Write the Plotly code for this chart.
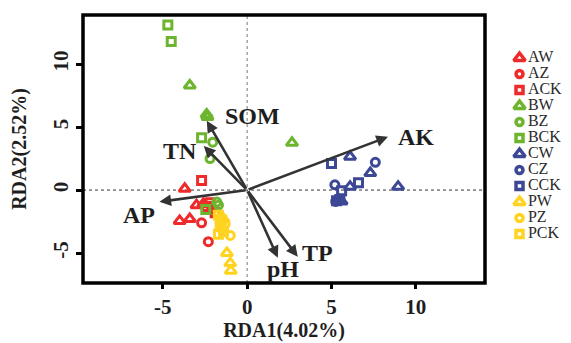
import plotly.graph_objects as go

# ---- sample scores (RDA1, RDA2) ----
groups = ["AW", "AZ", "ACK", "BW", "BZ", "BCK", "CW", "CZ", "CCK", "PW", "PZ", "PCK"]

AW_x = [-3.7, -3.0, -4.0, -3.4, -2.6]
AW_y = [0.1, -1.2, -2.45, -2.3, -1.1]
AZ_x = [-2.7, -2.3, -2.1]
AZ_y = [-2.6, -4.1, -1.5]
ACK_x = [-2.7, -2.2, -1.9, -2.4]
ACK_y = [0.75, -1.0, -1.8, -1.3]

BW_x = [-3.4, -2.4, -2.35, 2.66]
BW_y = [8.3, 6.0, 5.8, 3.75]
BZ_x = [-2.04, -2.2, -1.8, -1.7]
BZ_y = [3.8, 2.5, -0.95, -1.2]
BCK_x = [-4.7, -4.5, -2.7, -2.45]
BCK_y = [13.1, 11.8, 4.15, -1.55]

CW_x = [6.1, 7.3, 8.95, 6.1, 5.6]
CW_y = [2.65, 1.35, 0.27, 0.27, -0.9]
CZ_x = [7.6, 5.2, 5.4, 5.25]
CZ_y = [2.2, 0.42, -0.7, -0.9]
CCK_x = [5.0, 6.6, 5.6, 5.5, 5.3]
CCK_y = [2.1, 0.58, -0.05, -0.75, -0.85]

PW_x = [-1.2, -1.0, -0.97, -1.4]
PW_y = [-5.0, -5.8, -6.4, -2.3]
PZ_x = [-1.3, -1.0, -1.5, -1.6]
PZ_y = [-2.7, -3.6, -3.1, -2.2]
PCK_x = [-1.7, -1.5, -1.6, -1.4, -1.7]
PCK_y = [-2.0, -2.4, -2.9, -3.3, -3.5]

# ---- environmental arrows ----
env_names = ["SOM", "TN", "AK", "AP", "pH", "TP"]
env_x = [-2.39, -2.57, 8.35, -5.2, 1.82, 3.0]
env_y = [5.5, 3.5, 4.23, -0.93, -5.37, -5.3]
label_x = [0.3, -4.0, 10.0, -6.4, 2.1, 4.2]
label_y = [5.85, 3.1, 4.2, -1.95, -6.3, -5.0]

xticks = [-5, 0, 5, 10]
yticks = [-5, 0, 5, 10]

RED = "#EE2A2A"
GREEN = "#6DB52F"
BLUE = "#3C4896"
YELLOW = "#FFD320"

colors = [RED] * 3 + [GREEN] * 3 + [BLUE] * 3 + [YELLOW] * 3
symbols = ["triangle-up-open", "circle-open", "square-open"] * 4
xs_all = [AW_x, AZ_x, ACK_x, BW_x, BZ_x, BCK_x, CW_x, CZ_x, CCK_x, PW_x, PZ_x, PCK_x]
ys_all = [AW_y, AZ_y, ACK_y, BW_y, BZ_y, BCK_y, CW_y, CZ_y, CCK_y, PW_y, PZ_y, PCK_y]

SERIF = "Liberation Serif"
INK = "#1e1e1e"

fig = go.Figure()
for name, xs, ys, col, sym in zip(groups, xs_all, ys_all, colors, symbols):
    size = 10 if "triangle" in sym else 8
    fig.add_trace(go.Scatter(
        x=xs, y=ys, mode="markers", name=name, showlegend=False,
        marker=dict(symbol=sym, color=col, size=size, line=dict(color=col, width=3)),
    ))

# legend drawn on its own small axis, one row per group
rows = list(range(len(groups)))
for i, (name, col, sym) in enumerate(zip(groups, colors, symbols)):
    size = 10 if "triangle" in sym else 7
    fig.add_trace(go.Scatter(
        x=[0], y=[rows[i]], mode="markers",
        marker=dict(symbol=sym, color=col, size=size, line=dict(color=col, width=3.5)),
        xaxis="x3", yaxis="y3", showlegend=False, cliponaxis=False, hoverinfo="skip",
    ))
fig.add_trace(go.Scatter(
    x=[0.9] * len(groups), y=rows, mode="text", text=groups, textposition="middle right",
    textfont=dict(family=SERIF, size=16, color="#2a2a2a"),
    xaxis="x3", yaxis="y3", showlegend=False, cliponaxis=False, hoverinfo="skip",
))

# arrows
for nm, ex, ey, lx, ly in zip(env_names, env_x, env_y, label_x, label_y):
    fig.add_annotation(
        x=ex, y=ey, ax=0, ay=0, xref="x", yref="y", axref="x", ayref="y",
        showarrow=True, arrowhead=2, arrowsize=0.9, arrowwidth=2.6,
        arrowcolor="#333333", text="",
    )
    fig.add_annotation(
        x=lx, y=ly, xref="x", yref="y", text=f"<b>{nm}</b>", showarrow=False,
        font=dict(family=SERIF, size=24, color=INK),
    )

# dotted zero lines
fig.add_shape(type="line", x0=0, x1=0, y0=0, y1=1, xref="x", yref="y domain",
              line=dict(color="#777777", width=1, dash="dot"), layer="below")
fig.add_shape(type="line", x0=0, x1=1, y0=0, y1=0, xref="x domain", yref="y",
              line=dict(color="#333333", width=1, dash="dot"), layer="below")
# heavy frame
fig.add_shape(type="rect", x0=0, x1=1, y0=0, y1=1, xref="x domain", yref="y domain",
              line=dict(color="black", width=3.5), layer="above")

XR = [-9.73, 14.1]
YR = [-7.38, 13.9]
MAIN_DOM = [0, 402 / 483]

tickfont = dict(family=SERIF, size=21, color=INK)

fig.update_layout(
    width=571, height=343,
    margin=dict(l=83, r=5, t=15, b=60, autoexpand=False),
    plot_bgcolor="white", paper_bgcolor="white",
    font=dict(family=SERIF, color="black"),
    showlegend=False,
    xaxis=dict(
        domain=MAIN_DOM, range=XR, tickvals=xticks, automargin=False,
        ticktext=[f"<b>{v}</b>" for v in xticks],
        ticks="outside", ticklen=5, tickwidth=2.5, tickcolor="black",
        showline=False, showgrid=False, zeroline=False,
        tickfont=tickfont,
        title=dict(text="<b>RDA1(4.02%)</b>", font=dict(family=SERIF, size=20, color=INK), standoff=4),
    ),
    yaxis=dict(
        range=YR, tickvals=yticks, automargin=False,
        ticktext=[f"<b>{v}</b>" for v in yticks],
        ticks="outside", ticklen=6, tickwidth=2.5, tickcolor="black",
        showline=False, showgrid=False, zeroline=False, tickangle=-90,
        tickfont=tickfont,
        title=dict(text="<b>RDA2(2.52%)</b>", font=dict(family=SERIF, size=20, color=INK), standoff=16),
    ),
    xaxis2=dict(overlaying="x", side="top", domain=MAIN_DOM, range=XR, tickvals=[0, 10],
                ticks="outside", ticklen=6, tickwidth=2.5, tickcolor="black", automargin=False,
                showticklabels=False, showgrid=False, zeroline=False, showline=False),
    yaxis2=dict(overlaying="y", side="right", anchor="x", range=YR, tickvals=[0, 10],
                ticks="outside", ticklen=6, tickwidth=2.5, tickcolor="black", automargin=False,
                showticklabels=False, showgrid=False, zeroline=False, showline=False),
    xaxis3=dict(domain=[(513 - 83) / 483, 1.0], range=[-0.7, 5], visible=False, anchor="y3"),
    yaxis3=dict(domain=[(283 - 242) / 268, (283 - 50) / 268], range=[11.5, -0.5],
                visible=False, anchor="x3"),
)

fig.write_html("out.html", config={"displayModeBar": False},
               post_script="document.body.style.margin='0';")
